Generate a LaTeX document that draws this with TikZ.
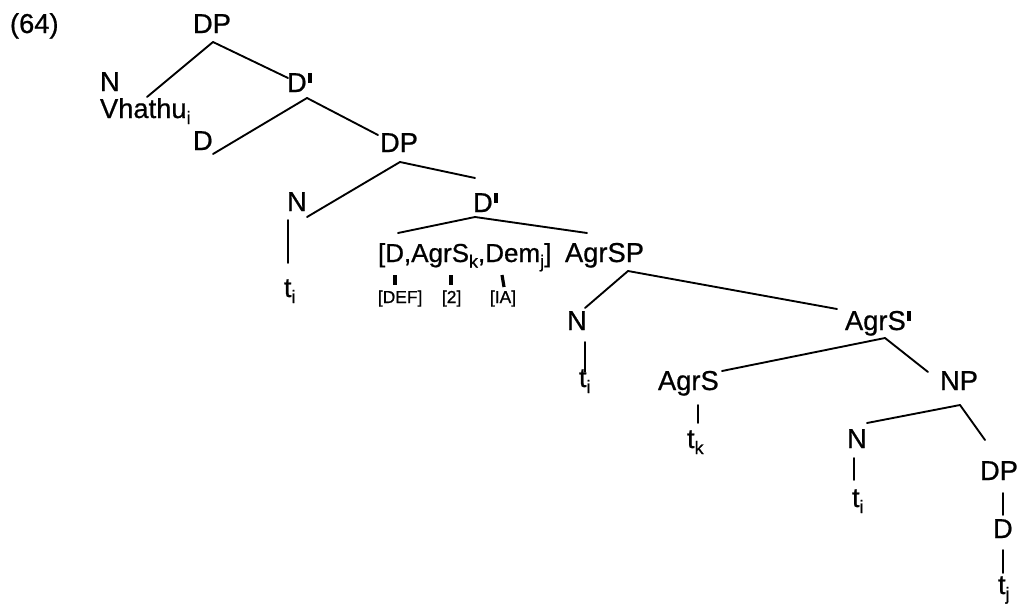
\documentclass[tikz,border=0pt]{standalone}
\usepackage{fontspec}
\setmainfont{Liberation Sans}
\newfontfamily\treefont{Liberation Sans}[FakeBold=0.7]
\usetikzlibrary{calc}
\newcommand\treesub[1]{\raisebox{-0.22em}{\fontsize{13.5}{13.5}\selectfont #1}}
\newcommand\barprime{\hspace{1.2pt}\raisebox{6.8pt}{\rule{2.8pt}{7.2pt}}}
\begin{document}
\begin{tikzpicture}[x=0.75pt,y=-0.75pt,
  lab/.style={anchor=base west,inner sep=0pt,outer sep=0pt,font=\treefont\fontsize{20.5}{22}\selectfont},
  feat/.style={anchor=base west,inner sep=0pt,outer sep=0pt,font=\treefont\fontsize{13}{14}\selectfont},
  edge/.style={line width=1.4pt,line cap=round},
  tick/.style={line width=2.4pt}]
\useasboundingbox (0,0) rectangle (1017,604);
% labels
\node[lab] (ex) at (10,33) {(64)};
\node[lab] (dpa) at (193,33) {DP};
\node[lab] (na) at (100,91) {N};
\node[lab] (vha) at (100,118) {Vhathu\treesub{i}};
\node[lab] (dba) at (287,92) {D\barprime};
\node[lab] (da) at (193,150) {D};
\node[lab] (dpb) at (380,152) {DP};
\node[lab] (nb) at (287,211) {N};
\node[lab] (tb) at (284,297) {t\treesub{i}};
\node[lab] (dbb) at (473,212) {D\barprime};
\node[lab,font=\treefont\fontsize{19.5}{21}\selectfont] (brk) at (378,262) {[D,AgrS\treesub{k},Dem\treesub{j}]};
\node[feat] (def) at (378,303) {[DEF]};
\node[feat] (two) at (442,303) {[2]};
\node[feat] (ia) at (490,303) {[IA]};
\node[lab] (agrsp) at (565,262) {AgrSP};
\node[lab] (nc) at (567,330) {N};
\node[lab] (tc) at (579,387) {t\treesub{i}};
\node[lab] (agrsb) at (845,330) {AgrS\barprime};
\node[lab] (agrs) at (658,390) {AgrS};
\node[lab] (tk) at (687,448) {t\treesub{k}};
\node[lab] (np) at (940,390) {NP};
\node[lab] (nd) at (847,448) {N};
\node[lab] (td) at (852,507) {t\treesub{i}};
\node[lab] (dpd) at (980,480) {DP};
\node[lab] (de) at (993,538) {D};
\node[lab] (tj) at (998,594) {t\treesub{j}};
% branches
\draw[edge] ($(dpa.base west)+(20,9)$) -- ($(vha.base west)+(47,-21)$);
\draw[edge] ($(dpa.base west)+(20,9)$) -- ($(dba.base west)+(1,-14)$);
\draw[edge] ($(dba.base west)+(20,6)$) -- ($(da.base west)+(20,4)$);
\draw[edge] ($(dba.base west)+(20,6)$) -- ($(dpb.base west)+(-2,-17)$);
\draw[edge] ($(dpb.base west)+(20,10)$) -- ($(nb.base west)+(20,6)$);
\draw[edge] ($(dpb.base west)+(20,10)$) -- ($(dbb.base west)+(2,-34)$);
\draw[edge] ($(nb.base west)+(1,9)$) -- ($(tb.base west)+(4,-34)$);
\draw[edge] ($(dbb.base west)+(2,5)$) -- ($(brk.base west)+(20,-29)$);
\draw[edge] ($(dbb.base west)+(2,5)$) -- ($(agrsp.base west)+(22,-29)$);
\draw[tick] ($(brk.base west)+(17,13)$) -- ($(def.base west)+(17,-18)$);
\draw[tick] ($(brk.base west)+(73,13)$) -- ($(two.base west)+(9,-18)$);
\draw[tick] ($(brk.base west)+(124,13)$) -- ($(ia.base west)+(14,-16)$);
\draw[edge] ($(agrsp.base west)+(63,9)$) -- ($(nc.base west)+(18,-22)$);
\draw[edge] ($(agrsp.base west)+(63,9)$) -- ($(agrsb.base west)+(-8,-21)$);
\draw[edge] ($(nc.base west)+(18,12)$) -- ($(tc.base west)+(6,-15)$);
\draw[edge] ($(agrsb.base west)+(40,8)$) -- ($(agrs.base west)+(64,-19)$);
\draw[edge] ($(agrsb.base west)+(40,8)$) -- ($(np.base west)+(-12,-18)$);
\draw[edge] ($(agrs.base west)+(40,15)$) -- ($(tk.base west)+(11,-25)$);
\draw[edge] ($(np.base west)+(20,15)$) -- ($(nd.base west)+(20,-25)$);
\draw[edge] ($(np.base west)+(20,15)$) -- ($(dpd.base west)+(5,-40)$);
\draw[edge] ($(nd.base west)+(7,10)$) -- ($(td.base west)+(2,-27)$);
\draw[edge] ($(dpd.base west)+(23,13)$) -- ($(de.base west)+(10,-23)$);
\draw[edge] ($(de.base west)+(10,12)$) -- ($(tj.base west)+(5,-21)$);
\end{tikzpicture}
\end{document}
